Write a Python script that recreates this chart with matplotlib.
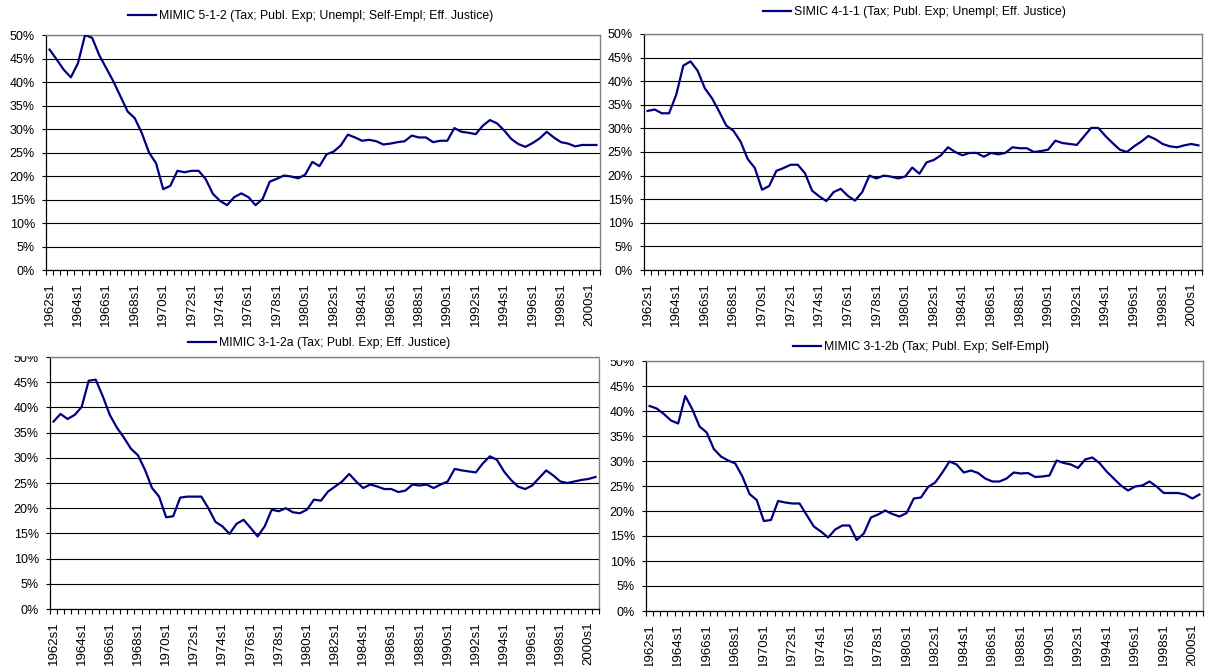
import matplotlib.pyplot as plt
from matplotlib.patches import Rectangle

plt.rcParams['font.family'] = ['Liberation Sans', 'DejaVu Sans']

# semestres 1962s1 ... 2000s2
semestres = [f'{ano}s{s}' for ano in range(1962, 2001) for s in (1, 2)]

mimic_512 = [46.9, 44.8, 42.6, 41.0, 44.0, 50.0, 49.4, 45.7, 42.9, 40.1,
             36.9, 33.7, 32.3, 29.1, 25.0, 22.7, 17.2, 17.9, 21.1, 20.8,
             21.1, 21.1, 19.3, 16.2, 14.7, 13.8, 15.5, 16.3, 15.5, 13.8,
             15.1, 18.8, 19.4, 20.1, 19.9, 19.5, 20.3, 23.0, 22.1, 24.6,
             25.2, 26.5, 28.8, 28.2, 27.5, 27.7, 27.4, 26.7, 26.9, 27.2,
             27.4, 28.6, 28.2, 28.2, 27.2, 27.5, 27.5, 30.2, 29.4, 29.2,
             28.9, 30.7, 31.9, 31.2, 29.7, 27.9, 26.8, 26.2, 27.0, 28.0,
             29.4, 28.2, 27.2, 26.9, 26.3, 26.6, 26.6, 26.6]

simic_411 = [33.7, 34.0, 33.2, 33.2, 37.1, 43.3, 44.2, 42.2, 38.5, 36.4,
             33.6, 30.6, 29.5, 27.2, 23.5, 21.6, 17.0, 17.8, 21.0, 21.6,
             22.3, 22.3, 20.5, 16.8, 15.6, 14.6, 16.5, 17.2, 15.7, 14.7,
             16.5, 20.0, 19.4, 20.0, 19.8, 19.4, 19.8, 21.7, 20.4, 22.8,
             23.3, 24.3, 26.0, 25.0, 24.3, 24.8, 24.8, 24.0, 24.8, 24.5,
             24.8, 26.0, 25.8, 25.8, 25.0, 25.2, 25.5, 27.4, 26.9, 26.7,
             26.5, 28.3, 30.1, 30.1, 28.4, 26.9, 25.5, 25.0, 26.2, 27.2,
             28.4, 27.7, 26.7, 26.2, 26.0, 26.4, 26.7, 26.4]

mimic_312a = [37.2, 38.7, 37.7, 38.5, 40.1, 45.3, 45.5, 42.2, 38.5, 36.0,
              34.0, 31.8, 30.5, 27.6, 24.0, 22.3, 18.2, 18.4, 22.1, 22.3,
              22.3, 22.3, 20.0, 17.3, 16.4, 14.9, 16.9, 17.7, 16.1, 14.4,
              16.4, 19.7, 19.4, 20.0, 19.2, 19.0, 19.7, 21.7, 21.5, 23.3,
              24.3, 25.3, 26.8, 25.3, 24.0, 24.7, 24.3, 23.8, 23.8, 23.2,
              23.5, 24.7, 24.5, 24.7, 24.0, 24.7, 25.3, 27.8, 27.5, 27.3,
              27.1, 28.9, 30.3, 29.6, 27.3, 25.6, 24.3, 23.8, 24.5, 26.0,
              27.5, 26.5, 25.3, 25.0, 25.3, 25.6, 25.8, 26.2]

mimic_312b = [41.0, 40.5, 39.4, 38.1, 37.5, 43.0, 40.3, 36.9, 35.7, 32.4,
              30.9, 30.1, 29.5, 26.9, 23.4, 22.2, 18.0, 18.2, 22.0, 21.7,
              21.5, 21.5, 19.2, 16.9, 15.9, 14.7, 16.3, 17.1, 17.1, 14.2,
              15.5, 18.7, 19.3, 20.1, 19.4, 18.9, 19.6, 22.5, 22.7, 24.8,
              25.7, 27.7, 29.9, 29.3, 27.7, 28.1, 27.6, 26.5, 25.9, 25.9,
              26.5, 27.7, 27.5, 27.6, 26.8, 26.9, 27.1, 30.1, 29.6, 29.3,
              28.6, 30.3, 30.7, 29.6, 27.9, 26.5, 25.1, 24.1, 24.9, 25.1,
              25.9, 24.9, 23.6, 23.6, 23.6, 23.3, 22.5, 23.3]

nomes = ['MIMIC 5-1-2 (Tax; Publ. Exp; Unempl; Self-Empl; Eff. Justice)',
         'SIMIC 4-1-1 (Tax; Publ. Exp; Unempl; Eff. Justice)',
         'MIMIC 3-1-2a (Tax; Publ. Exp; Eff. Justice)',
         'MIMIC 3-1-2b (Tax; Publ. Exp; Self-Empl)']
series = [mimic_512, simic_411, mimic_312a, mimic_312b]

W, H = 1206, 666
fig = plt.figure(figsize=(W / 100, H / 100), dpi=100)

# caixas dos graficos em pixels: esquerda, direita, topo, base
caixas = [(46, 600, 35, 270), (644, 1202, 34, 270),
          (50, 599, 357, 609), (646, 1203, 361, 611)]
# inicio da linha da legenda (x, y) em pixels
legendas = [(128, 16), (763, 12), (188, 343), (793, 347)]

x = list(range(len(semestres)))
for serie, nome, (l, r, t, b), (lx, ly) in zip(series, nomes, caixas, legendas):
    ax = fig.add_axes([l / W, 1 - b / H, (r - l) / W, (b - t) / H])
    ax.plot(x, serie, color='#000080', linewidth=1.6, label=nome, zorder=3)
    ax.set_xlim(-0.5, len(semestres) - 0.5)
    ax.set_ylim(0, 50)

    ax.set_yticks(range(0, 51, 5))
    ax.set_yticklabels([f'{v}%' for v in range(0, 51, 5)])
    ax.yaxis.grid(True, color='black', linewidth=0.8)
    ax.set_axisbelow(True)

    ax.set_xticks(x[::4])
    ax.set_xticklabels(semestres[::4], rotation=90)
    ax.set_xticks([i - 0.5 for i in range(len(semestres) + 1)], minor=True)
    ax.tick_params(axis='x', which='major', length=0, pad=9, labelsize=9.5)
    ax.tick_params(axis='x', which='minor', length=3.5, width=0.8, direction='out')
    ax.tick_params(axis='y', length=3, width=0.8, pad=5, labelsize=9)

    for lado in ('top', 'right'):
        ax.spines[lado].set_color('#808080')
        ax.spines[lado].set_linewidth(1.0)
    for lado in ('left', 'bottom'):
        ax.spines[lado].set_color('black')
        ax.spines[lado].set_linewidth(0.9)

    ax.legend(loc='center left', bbox_to_anchor=(lx / W, 1 - ly / H),
              bbox_transform=fig.transFigure, frameon=False, fontsize=8.8,
              borderpad=0, borderaxespad=0, handlelength=2.3,
              handletextpad=0.25)

# o topo dos rotulos 50% de baixo aparece cortado na figura original
fig.patches.append(Rectangle((0, 1 - 355 / H), 46 / W, 25 / H,
                             transform=fig.transFigure, color='white',
                             zorder=10))
fig.patches.append(Rectangle((600 / W, 1 - 359 / H), 44 / W, 29 / H,
                             transform=fig.transFigure, color='white',
                             zorder=10))

plt.savefig('out.png', dpi=100)
